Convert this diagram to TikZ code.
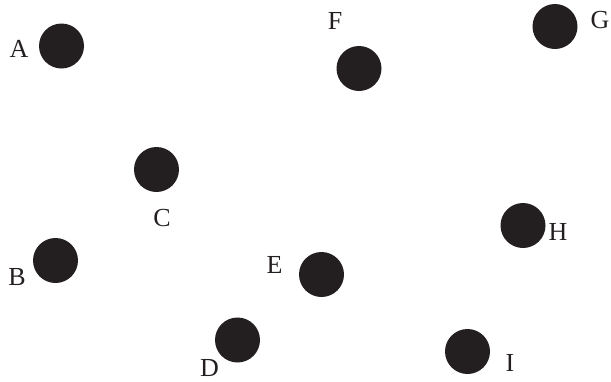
\documentclass[tikz,border=0pt]{standalone}
\usepackage{fontspec}
\setmainfont{Liberation Serif}
\definecolor{ink}{HTML}{231F20}
\begin{document}
\begin{tikzpicture}[x=1pt,y=-1pt,
  dot/.style={circle,fill=ink,minimum size=45pt,inner sep=0pt},
  lbl/.style={anchor=base,inner sep=0pt,text=ink,font=\fontsize{26}{26}\selectfont}]
\useasboundingbox (0,0) rectangle (611,381);
\node[dot] (A) at (61.5,46) {};
\node[dot] (F) at (359,68.5) {};
\node[dot] (G) at (555,26.5) {};
\node[dot] (C) at (156.5,169.5) {};
\node[dot] (B) at (55.5,260.5) {};
\node[dot] (H) at (523,225.5) {};
\node[dot] (E) at (321.5,274.5) {};
\node[dot] (D) at (237.5,340) {};
\node[dot] (I) at (467.5,351.5) {};
\node[lbl] (lA) at (19,57) {A};
\node[lbl] (lF) at (335,29) {F};
\node[lbl] (lG) at (600,28) {G};
\node[lbl] (lC) at (162,226.5) {C};
\node[lbl] (lB) at (17,285) {B};
\node[lbl] (lH) at (558,240) {H};
\node[lbl] (lE) at (274.5,273) {E};
\node[lbl] (lD) at (209.5,376) {D};
\node[lbl] (lI) at (510,371.5) {I};
\end{tikzpicture}
\end{document}
